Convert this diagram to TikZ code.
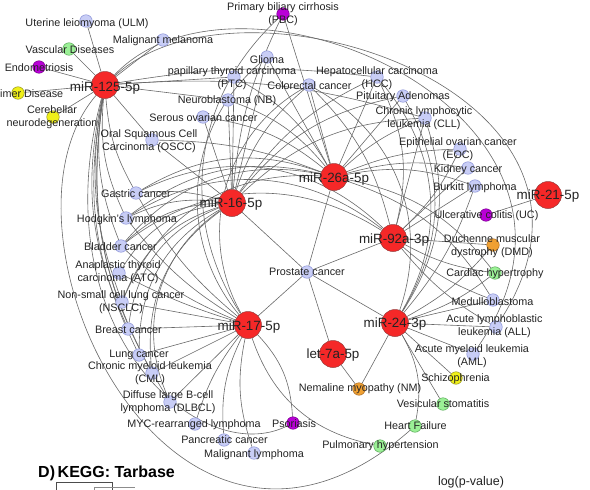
\documentclass[tikz,border=0pt]{standalone}
\usepackage{fontspec}
\setmainfont{Liberation Sans}
\definecolor{edgegray}{RGB}{105,105,105}
\definecolor{txt}{RGB}{35,35,35}
\definecolor{hubred}{RGB}{245,40,40}
\definecolor{hubedge}{RGB}{150,60,60}
\definecolor{nblue}{RGB}{200,205,246}
\definecolor{nblueedge}{RGB}{140,148,215}
\definecolor{ngreen}{RGB}{155,240,150}
\definecolor{ngreenedge}{RGB}{90,170,90}
\definecolor{npurple}{RGB}{185,0,215}
\definecolor{npurpleedge}{RGB}{120,0,140}
\definecolor{nyellow}{RGB}{240,240,25}
\definecolor{nyellowedge}{RGB}{150,150,30}
\definecolor{norange}{RGB}{240,160,50}
\definecolor{norangeedge}{RGB}{170,110,40}
\pgfdeclarelayer{bg}
\pgfsetlayers{bg,main}
\begin{document}
\begin{tikzpicture}[x=1pt,y=-1pt,
  edge/.style={draw=edgegray, line width=0.6pt},
  hub/.style={circle, fill=hubred, draw=hubedge, line width=0.5pt, minimum size=27pt, inner sep=0pt},
  dis/.style={circle, line width=0.5pt, minimum size=12.5pt, inner sep=0pt},
  dblue/.style={dis, fill=nblue, draw=nblueedge},
  dgreen/.style={dis, fill=ngreen, draw=ngreenedge},
  dpurple/.style={dis, fill=npurple, draw=npurpleedge},
  dyellow/.style={dis, fill=nyellow, draw=nyellowedge},
  dorange/.style={dis, fill=norange, draw=norangeedge},
  lab/.style={font=\fontsize{10.8}{13}\selectfont, align=center, inner sep=0pt, text=txt},
  hlab/.style={font=\fontsize{13.4}{15}\selectfont, inner sep=0pt, text=txt}]
\useasboundingbox (0,0) rectangle (590,490);

% miRNA hubs
\node[hub] (A) at (105,85) {};
\node[hub] (B) at (232,203) {};
\node[hub] (C) at (334,177) {};
\node[hub] (D) at (393,238) {};
\node[hub] (E) at (548,195) {};
\node[hub] (F) at (248,325) {};
\node[hub] (G) at (395,323) {};
\node[hub] (H) at (333,354) {};

% disease nodes
\node[dblue]   (ulm)    at (86,21) {};
\node[dblue]   (mm)     at (163,40) {};
\node[dgreen]  (vd)     at (69,49) {};
\node[dpurple] (endo)   at (39,67) {};
\node[dyellow] (alz)    at (18,93) {};
\node[dyellow] (cer)    at (53,117) {};
\node[dblue]   (oscc)   at (152,140) {};
\node[dpurple] (pbc)    at (283,14) {};
\node[dblue]   (glioma) at (267,57) {};
\node[dblue]   (ptc)    at (234,77) {};
\node[dblue]   (col)    at (309,85) {};
\node[dblue]   (hcc)    at (377,77) {};
\node[dblue]   (pit)    at (403,96) {};
\node[dblue]   (nb)     at (228,100) {};
\node[dblue]   (ser)    at (203,117) {};
\node[dblue]   (cll)    at (425,118) {};
\node[dblue]   (eoc)    at (460,149) {};
\node[dblue]   (kid)    at (468,168) {};
\node[dblue]   (bur)    at (475,186) {};
\node[dpurple] (uc)     at (486,215) {};
\node[dorange] (dmd)    at (493,245) {};
\node[dgreen]  (car)    at (495,273) {};
\node[dblue]   (med)    at (493,300) {};
\node[dblue]   (all)    at (496,327) {};
\node[dblue]   (aml)    at (473,354) {};
\node[dyellow] (sch)    at (456,378) {};
\node[dgreen]  (vs)     at (443,404) {};
\node[dgreen]  (hf)     at (415,426) {};
\node[dgreen]  (ph)     at (380,446) {};
\node[dorange] (nm)     at (359,389) {};
\node[dpurple] (pso)    at (293,423) {};
\node[dblue]   (gas)    at (136,193) {};
\node[dblue]   (hod)    at (126,218) {};
\node[dblue]   (bla)    at (121,246) {};
\node[dblue]   (atc)    at (119,273) {};
\node[dblue]   (nsc)    at (122,302) {};
\node[dblue]   (bre)    at (128,329) {};
\node[dblue]   (lun)    at (139,355) {};
\node[dblue]   (cml)    at (152,373) {};
\node[dblue]   (dlb)    at (170,402) {};
\node[dblue]   (myc)    at (195,424) {};
\node[dblue]   (pan)    at (224,440) {};
\node[dblue]   (mly)    at (254,453) {};
\node[dblue]   (pro)    at (307,272) {};

% associations
\begin{pgfonlayer}{bg}
% miR-125-5p
\draw[edge] (A) -- (ulm);
\draw[edge] (A) -- (mm);
\draw[edge] (A) -- (vd);
\draw[edge] (A) -- (endo);
\draw[edge] (A) -- (alz);
\draw[edge] (A) -- (cer);
\draw[edge] (A) -- (oscc);
\draw[edge] (A) -- (ptc);
\draw[edge] (A) to[bend left=8] (hcc);
\draw[edge] (A) -- (nb);
\draw[edge] (A) to[bend left=10] (cll);
\draw[edge] (A) .. controls (240,-40) and (650,90) .. (all);
\draw[edge] (A) .. controls (240,-58) and (640,115) .. (aml);
\draw[edge] (A) .. controls (-20,230) and (170,640) .. (hf);
\draw[edge] (A) .. controls (40,330) and (200,470) .. (pso);
\draw[edge] (A) to[bend right=12] (gas);
\draw[edge] (A) to[bend right=15] (hod);
\draw[edge] (A) to[bend right=15] (bla);
\draw[edge] (A) to[bend right=15] (nsc);
\draw[edge] (A) to[bend right=18] (bre);
\draw[edge] (A) to[bend right=18] (lun);
\draw[edge] (A) to[bend right=18] (cml);
\draw[edge] (A) to[bend right=20] (dlb);
% miR-16-5p
\draw[edge] (gas) to[bend left=10] (B);
\draw[edge] (hod) to[bend left=15] (B);
\draw[edge] (bla) to[bend left=20] (B);
\draw[edge] (atc) to[bend left=25] (B);
\draw[edge] (nsc) to[bend left=25] (B);
\draw[edge] (bre) to[bend left=30] (B);
\draw[edge] (lun) to[bend left=30] (B);
\draw[edge] (cml) to[bend left=30] (B);
\draw[edge] (pbc) to[bend right=10] (B);
\draw[edge] (glioma) -- (B);
\draw[edge] (nb) -- (B);
\draw[edge] (ptc) -- (B);
\draw[edge] (ser) -- (B);
\draw[edge] (oscc) -- (B);
\draw[edge] (col) to[bend right=15] (B);
\draw[edge] (pit) to[bend right=20] (B);
\draw[edge] (cll) to[bend right=20] (B);
\draw[edge] (hcc) to[bend right=15] (B);
\draw[edge] (B) -- (pro);
\draw[edge] (B) to[bend right=40] (dlb);
% miR-26a-5p
\draw[edge] (glioma) -- (C);
\draw[edge] (col) -- (C);
\draw[edge] (hcc) -- (C);
\draw[edge] (pit) -- (C);
\draw[edge] (cll) to[bend right=10] (C);
\draw[edge] (eoc) to[bend right=10] (C);
\draw[edge] (kid) to[bend right=12] (C);
\draw[edge] (bur) to[bend right=15] (C);
\draw[edge] (pbc) -- (C);
\draw[edge] (ptc) to[bend left=15] (C);
\draw[edge] (nb) to[bend left=15] (C);
\draw[edge] (ser) to[bend left=15] (C);
\draw[edge] (oscc) to[bend left=10] (C);
\draw[edge] (gas) to[bend left=25] (C);
\draw[edge] (hod) to[bend left=25] (C);
\draw[edge] (bla) to[bend left=30] (C);
\draw[edge] (nsc) to[bend left=35] (C);
\draw[edge] (C) -- (pro);
\draw[edge] (C) to[bend left=20] (med);
\draw[edge] (C) to[bend left=20] (car);
% miR-92a-3p
\draw[edge] (D) -- (dmd);
\draw[edge] (eoc) to[bend left=10] (D);
\draw[edge] (kid) -- (D);
\draw[edge] (bur) -- (D);
\draw[edge] (D) to[bend right=10] (car);
\draw[edge] (D) to[bend right=10] (med);
\draw[edge] (D) to[bend right=10] (all);
\draw[edge] (D) -- (pro);
\draw[edge] (hcc) to[bend left=20] (D);
\draw[edge] (cll) -- (D);
\draw[edge] (col) to[bend left=15] (D);
\draw[edge] (gas) to[bend left=35] (D);
\draw[edge] (hod) to[bend left=35] (D);
\draw[edge] (bla) to[bend left=35] (D);
% miR-21-5p
\draw[edge] (E) -- (uc);
% miR-17-5p
\draw[edge] (bre) -- (F);
\draw[edge] (lun) -- (F);
\draw[edge] (cml) -- (F);
\draw[edge] (dlb) -- (F);
\draw[edge] (myc) to[bend left=10] (F);
\draw[edge] (pan) to[bend left=15] (F);
\draw[edge] (mly) to[bend left=15] (F);
\draw[edge] (F) to[bend left=20] (pso);
\draw[edge] (F) -- (pro);
\draw[edge] (nsc) -- (F);
\draw[edge] (atc) to[bend right=5] (F);
\draw[edge] (bla) to[bend right=10] (F);
\draw[edge] (hod) to[bend right=10] (F);
\draw[edge] (gas) to[bend right=10] (F);
\draw[edge] (glioma) to[bend right=45] (F);
\draw[edge] (col) to[bend right=45] (F);
\draw[edge] (pbc) to[bend right=40] (F);
\draw[edge] (F) to[bend right=30] (ph);
% miR-24-3p
\draw[edge] (G) -- (nm);
\draw[edge] (G) -- (sch);
\draw[edge] (G) -- (vs);
\draw[edge] (G) to[bend left=20] (hf);
\draw[edge] (G) -- (aml);
\draw[edge] (G) -- (all);
\draw[edge] (G) -- (med);
\draw[edge] (G) -- (pro);
\draw[edge] (G) to[bend right=10] (car);
\draw[edge] (G) to[bend right=10] (dmd);
\draw[edge] (G) to[bend right=10] (bur);
\draw[edge] (hcc) to[bend left=35] (G);
\draw[edge] (cll) to[bend left=25] (G);
\draw[edge] (pit) to[bend left=30] (G);
\draw[edge] (col) to[bend left=40] (G);
% let-7a-5p
\draw[edge] (H) -- (nm);
\draw[edge] (H) -- (pro);
\end{pgfonlayer}

% hub labels
\node[hlab] (Al) at (105,88) {miR-125-5p};
\node[hlab] (Bl) at (231,204) {miR-16-5p};
\node[hlab] (Cl) at (334,179) {miR-26a-5p};
\node[hlab] (Dl) at (394,240) {miR-92a-3p};
\node[hlab] (El) at (548,196) {miR-21-5p};
\node[hlab] (Fl) at (249,327) {miR-17-5p};
\node[hlab] (Gl) at (395,324) {miR-24-3p};
\node[hlab] (Hl) at (333,355) {let-7a-5p};

% disease labels
\node[lab] (ulmL)    at (87,24) {Uterine leiomyoma (ULM)};
\node[lab] (mmL)     at (163,41) {Malignant melanoma};
\node[lab] (vdL)     at (70,50) {Vascular Diseases};
\node[lab] (endoL)   at (39,68) {Endometriosis};
\node[lab, anchor=west] (alzL) at (0,94) {imer Disease};
\node[lab] (cerL)    at (52,117.5) {Cerebellar\\neurodegeneration};
\node[lab] (osccL)   at (149,141) {Oral Squamous Cell\\Carcinoma (OSCC)};
\node[lab] (pbcL)    at (283,14.5) {Primary biliary cirrhosis\\(PBC)};
\node[lab] (gliomaL) at (267,60) {Glioma};
\node[lab] (ptcL)    at (232,78.5) {papillary thyroid carcinoma\\(PTC)};
\node[lab] (colL)    at (309.5,85.5) {Colorectal cancer};
\node[lab] (hccL)    at (377,78.5) {Hepatocellular carcinoma\\(HCC)};
\node[lab] (pitL)    at (403,97) {Pituitary Adenomas};
\node[lab] (nbL)     at (227,101) {Neuroblastoma (NB)};
\node[lab] (serL)    at (203.5,118) {Serous ovarian cancer};
\node[lab] (cllL)    at (424,118) {Chronic lymphocytic\\leukemia (CLL)};
\node[lab] (eocL)    at (458,149.5) {Epithelial ovarian cancer\\(EOC)};
\node[lab] (kidL)    at (468,170) {Kidney cancer};
\node[lab] (burL)    at (475,188) {Burkitt lymphoma};
\node[lab] (ucL)     at (486.5,216) {Ulcerative colitis (UC)};
\node[lab] (dmdL)    at (492,246) {Duchenne muscular\\dystrophy (DMD)};
\node[lab] (carL)    at (495,274) {Cardiac hypertrophy};
\node[lab] (medL)    at (492.5,302) {Medulloblastoma};
\node[lab] (allL)    at (494.5,326.5) {Acute lymphoblastic\\leukemia (ALL)};
\node[lab] (amlL)    at (472,356) {Acute myeloid leukemia\\(AML)};
\node[lab] (schL)    at (455.5,379) {Schizophrenia};
\node[lab] (vsL)     at (443,404) {Vesicular stomatitis};
\node[lab] (hfL)     at (415.5,426) {Heart Failure};
\node[lab] (phL)     at (380.5,446) {Pulmonary hypertension};
\node[lab] (nmL)     at (360,389) {Nemaline myopathy (NM)};
\node[lab] (psoL)    at (294,424) {Psoriasis};
\node[lab] (gasL)    at (136,194) {Gastric cancer};
\node[lab] (hodL)    at (127,220) {Hodgkin's lymphoma};
\node[lab] (blaL)    at (120.5,247) {Bladder cancer};
\node[lab] (atcL)    at (118,272) {Anaplastic thyroid\\carcinoma (ATC)};
\node[lab] (nscL)    at (121,302.5) {Non-small cell lung cancer\\(NSCLC)};
\node[lab] (breL)    at (128.5,330) {Breast cancer};
\node[lab] (lunL)    at (139,355) {Lung cancer};
\node[lab] (cmlL)    at (150,373.5) {Chronic myeloid leukemia\\(CML)};
\node[lab] (dlbL)    at (168,402.5) {Diffuse large B-cell\\lymphoma (DLBCL)};
\node[lab] (mycL)    at (194,425) {MYC-rearranged lymphoma};
\node[lab] (panL)    at (224.5,440) {Pancreatic cancer};
\node[lab] (mlyL)    at (254,455) {Malignant lymphoma};
\node[lab] (proL)    at (307,272) {Prostate cancer};

% panel heading, scale caption and the edge of the next panel
\node[font=\bfseries\fontsize{16}{18}\selectfont, text=black, inner sep=0pt, anchor=west] (title) at (38,473) {D)\,KEGG: Tarbase};
\node[font=\fontsize{12.5}{14}\selectfont, text=txt, inner sep=0pt] (logp) at (471,482) {log(p-value)};
\draw[black!70, line width=0.6pt] (56,490) -- (56,482) -- (112,482) -- (112,490);
\draw[black!45, line width=0.6pt] (94,490) -- (94,487.5) -- (135,487.5);
\end{tikzpicture}
\end{document}
